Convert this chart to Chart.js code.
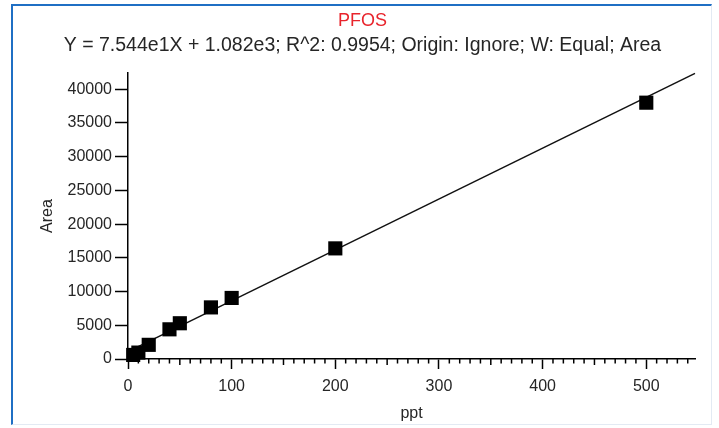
<!DOCTYPE html>
<html>
<head>
<meta charset="utf-8">
<script src="https://cdn.jsdelivr.net/npm/chart.js@4/dist/chart.umd.min.js"></script>
<style>
  html, body { margin: 0; padding: 0; background: #fff; }
  #frame { position: absolute; left: 11px; top: 4px; width: 701px; height: 421px;
           border-top: 2px solid #1f6fc4; border-left: 2px solid #1f6fc4;
           border-right: 1px solid #e3eaf3; border-bottom: 1px solid #e3eaf3; box-sizing: border-box; }
  #wrap { position: absolute; left: 0; top: 0; width: 719px; height: 428px; }
</style>
</head>
<body>
<div id="frame"></div>
<div id="wrap"><canvas id="c" width="719" height="428"></canvas></div>
<script>
// Calibration standards (ppt) and measured peak areas
const ppt  = [5, 10, 20, 40, 50, 80, 100, 200, 500];
const area = [600, 950, 2100, 4400, 5300, 7650, 9050, 16400, 38000];
// Fitted regression line end points (Y = 75.44 X + 1082)
const fitX = [0, 547];
const fitY = [1082, 42348];
const xTicks = [0, 100, 200, 300, 400, 500];
const yTicks = [0, 5000, 10000, 15000, 20000, 25000, 30000, 35000, 40000];
const titleText = 'PFOS';
const subtitleText = 'Y = 7.544e1X + 1.082e3; R^2: 0.9954; Origin: Ignore; W: Equal; Area';

const FONT = "'Liberation Sans', Arial, sans-serif";
const TXT = '#262626';

const minorTicks = {
  id: 'minorTicks',
  afterDraw(chart) {
    const xs = chart.scales.x, ctx = chart.ctx;
    const y0 = xs.top;
    ctx.save();
    ctx.strokeStyle = '#000';
    ctx.lineWidth = 1.5;
    for (let v = 10; v <= xs.max; v += 10) {
      if (v % 100 === 0) continue;
      const px = xs.getPixelForValue(v);
      const len = (v % 50 === 0) ? 6 : 4.5;
      ctx.beginPath();
      ctx.moveTo(px, y0);
      ctx.lineTo(px, y0 + len);
      ctx.stroke();
    }
    ctx.restore();
  }
};

new Chart(document.getElementById('c'), {
  type: 'scatter',
  data: {
    datasets: [
      {
        type: 'line',
        data: fitX.map((x, i) => ({ x, y: fitY[i] })),
        borderColor: '#111',
        borderWidth: 1.5,
        pointRadius: 0,
        fill: false,
        clip: false,
        order: 2
      },
      {
        data: ppt.map((x, i) => ({ x, y: area[i] })),
        pointStyle: 'rect',
        pointRadius: 10,
        pointHoverRadius: 10,
        backgroundColor: '#000',
        borderColor: '#000',
        borderWidth: 0,
        clip: false,
        order: 1
      }
    ]
  },
  options: {
    responsive: false,
    animation: false,
    events: [],
    layout: { padding: { left: 30, right: 24, top: 4, bottom: 5 } },
    plugins: {
      legend: { display: false },
      tooltip: { enabled: false },
      title: {
        display: true, text: titleText, color: '#e8242c',
        font: { family: FONT, size: 18, weight: 'normal' },
        padding: { top: 6, bottom: 2 }
      },
      subtitle: {
        display: true, text: subtitleText, color: TXT,
        font: { family: FONT, size: 19.5, weight: 'normal' },
        padding: { top: 0, bottom: 16 }
      }
    },
    scales: {
      x: {
        type: 'linear', min: 0, max: 547,
        afterBuildTicks: s => { s.ticks = xTicks.map(v => ({ value: v })); },
        afterFit: s => { s.height = 64; },
        ticks: { color: TXT, font: { family: FONT, size: 16 }, padding: 8, maxRotation: 0,
                 callback: v => String(v) },
        grid: { drawOnChartArea: false, drawTicks: true, tickLength: 10, tickColor: '#000', tickWidth: 1.5 },
        border: { display: true, color: '#000', width: 1.5 },
        title: { display: true, text: 'ppt', color: TXT, font: { family: FONT, size: 16 }, padding: { top: 0, bottom: 0 } }
      },
      y: {
        type: 'linear', min: 0, max: 42400,
        afterBuildTicks: s => { s.ticks = yTicks.map(v => ({ value: v })); },
        afterFit: s => { s.width = 98; },
        ticks: { color: TXT, font: { family: FONT, size: 16 }, padding: 3,
                 callback: v => String(v) },
        grid: { drawOnChartArea: false, drawTicks: true, tickLength: 13, tickColor: '#000', tickWidth: 1.5 },
        border: { display: true, color: '#000', width: 1.5 },
        title: { display: true, text: 'Area', color: TXT, font: { family: FONT, size: 16 }, padding: { top: 8, bottom: 0 } }
      }
    }
  },
  plugins: [minorTicks]
});
</script>
</body>
</html>
